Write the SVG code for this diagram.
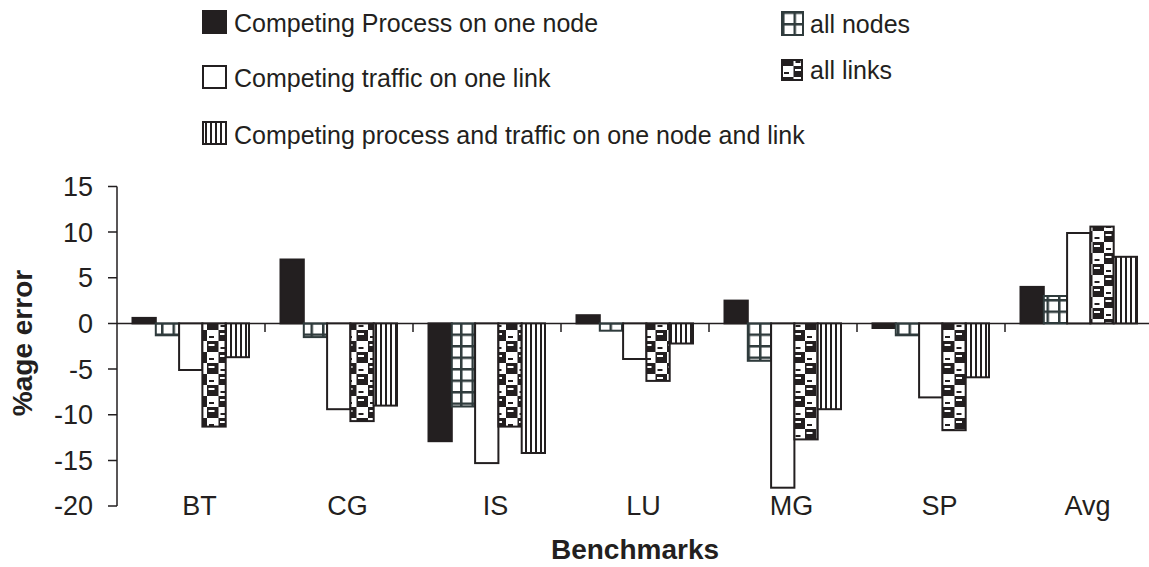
<svg xmlns="http://www.w3.org/2000/svg" width="1149" height="567" viewBox="0 0 1149 567">
  <defs>
    <!-- fill patterns for the five series -->
    <pattern id="grid" patternUnits="userSpaceOnUse" width="11.5" height="11.5">
      <rect width="11.5" height="11.5" fill="#fff"/>
      <rect x="0" y="0" width="11.5" height="2.5" fill="#2f3b3c"/>
      <rect x="0" y="0" width="2.5" height="11.5" fill="#2f3b3c"/>
    </pattern>
    <pattern id="checker" patternUnits="userSpaceOnUse" width="23" height="22">
      <rect width="23" height="22" fill="#231f20"/>
      <rect x="0" y="0" width="11.5" height="11" fill="#fff"/>
      <rect x="11.5" y="11" width="11.5" height="11" fill="#fff"/>
      <rect x="13" y="3" width="6" height="2" fill="#fff"/>
      <rect x="1.5" y="14" width="6" height="2" fill="#fff"/>
      <rect x="2" y="6" width="5" height="2" fill="#231f20"/>
      <rect x="13.5" y="17" width="5" height="2" fill="#231f20"/>
    </pattern>
    <pattern id="stripes" patternUnits="userSpaceOnUse" width="5" height="10">
      <rect width="5" height="10" fill="#fff"/>
      <rect x="0" y="0" width="2" height="10" fill="#231f20"/>
    </pattern>
  </defs>
  <style>
    text { font-family: "Liberation Sans", Arial, sans-serif; fill: #231f20; }
    .lbl { font-size: 25px; }
    .tick { font-size: 27px; text-anchor: end; }
    .cat { font-size: 27px; text-anchor: middle; }
    .title { font-size: 28px; font-weight: bold; text-anchor: middle; }
    .axis { stroke: #231f20; stroke-width: 1.5; fill: none; }
    .s1 { fill: #231f20; stroke: #231f20; stroke-width: 2; }
    .s2 { fill: url(#grid); stroke: #2f3b3c; stroke-width: 2; }
    .s3 { fill: #fff; stroke: #231f20; stroke-width: 2; }
    .s4 { fill: url(#checker); stroke: #231f20; stroke-width: 2; }
    .s5 { fill: url(#stripes); stroke: #231f20; stroke-width: 2; }
  </style>

  <rect width="1149" height="567" fill="#fff"/>

  <!-- legend -->
  <g id="legend">
    <g id="legend-process-node">
      <rect class="s1" x="203" y="11" width="23" height="22"/>
      <text class="lbl" x="234" y="32">Competing Process on one node</text>
    </g>
    <g id="legend-traffic-link">
      <rect class="s3" x="203" y="66" width="23" height="22"/>
      <text class="lbl" x="234" y="87">Competing traffic on one link</text>
    </g>
    <g id="legend-process-traffic">
      <rect class="s5" x="203" y="122" width="23" height="22"/>
      <text class="lbl" x="234" y="144">Competing process and traffic on one node and link</text>
    </g>
    <g id="legend-all-nodes">
      <rect class="s2" x="782" y="12" width="21" height="23"/>
      <text class="lbl" x="810" y="33">all nodes</text>
    </g>
    <g id="legend-all-links">
      <rect class="s4" x="782" y="60" width="20" height="20"/>
      <text class="lbl" x="810" y="79">all links</text>
    </g>
  </g>

  <!-- axes -->
  <g id="axes">
    <path class="axis" d="M117 186.5 V506 M108 186.5 H117 M108 232.1 H117 M108 277.8 H117 M108 323.4 H117 M108 369 H117 M108 414.7 H117 M108 460.4 H117 M108 506 H117"/>
    <path class="axis" d="M117 323.4 H1149 M265 323.4 V332 M413 323.4 V332 M561 323.4 V332 M709 323.4 V332 M857 323.4 V332 M1005 323.4 V332"/>
    <text class="tick" x="93" y="196">15</text>
    <text class="tick" x="93" y="242">10</text>
    <text class="tick" x="93" y="287">5</text>
    <text class="tick" x="93" y="333">0</text>
    <text class="tick" x="93" y="379">-5</text>
    <text class="tick" x="93" y="424">-10</text>
    <text class="tick" x="93" y="470">-15</text>
    <text class="tick" x="93" y="515">-20</text>
    <text class="title" transform="translate(32 343) rotate(-90)">%age error</text>
    <text class="title" x="635" y="559">Benchmarks</text>
  </g>

  <!-- category labels -->
  <g id="categories">
    <text class="cat" x="199.5" y="515">BT</text>
    <text class="cat" x="347.5" y="515">CG</text>
    <text class="cat" x="495.5" y="515">IS</text>
    <text class="cat" x="643.5" y="515">LU</text>
    <text class="cat" x="791.5" y="515">MG</text>
    <text class="cat" x="939.5" y="515">SP</text>
    <text class="cat" x="1087.5" y="515">Avg</text>
  </g>

  <!-- bars -->
  <g id="bars">
    <g id="bt">
      <rect class="s1" x="132.5" y="317.9" width="23.3" height="5.5"/>
      <rect class="s2" x="155.8" y="323.4" width="23.3" height="11.9"/>
      <rect class="s3" x="179.1" y="323.4" width="23.3" height="46.6"/>
      <rect class="s4" x="202.4" y="323.4" width="23.3" height="103.2"/>
      <rect class="s5" x="225.7" y="323.4" width="23.3" height="33.8"/>
    </g>
    <g id="cg">
      <rect class="s1" x="280.5" y="259.5" width="23.3" height="63.9"/>
      <rect class="s2" x="303.8" y="323.4" width="23.3" height="13.7"/>
      <rect class="s3" x="327.1" y="323.4" width="23.3" height="85.8"/>
      <rect class="s4" x="350.4" y="323.4" width="23.3" height="97.7"/>
      <rect class="s5" x="373.7" y="323.4" width="23.3" height="82.2"/>
    </g>
    <g id="is">
      <rect class="s1" x="428.5" y="323.4" width="23.3" height="117.8"/>
      <rect class="s2" x="451.8" y="323.4" width="23.3" height="83.1"/>
      <rect class="s3" x="475.1" y="323.4" width="23.3" height="139.7"/>
      <rect class="s4" x="498.4" y="323.4" width="23.3" height="103.2"/>
      <rect class="s5" x="521.7" y="323.4" width="23.3" height="129.6"/>
    </g>
    <g id="lu">
      <rect class="s1" x="576.5" y="315.2" width="23.3" height="8.2"/>
      <rect class="s2" x="599.8" y="323.4" width="23.3" height="7.3"/>
      <rect class="s3" x="623.1" y="323.4" width="23.3" height="35.6"/>
      <rect class="s4" x="646.4" y="323.4" width="23.3" height="57.5"/>
      <rect class="s5" x="669.7" y="323.4" width="23.3" height="20.1"/>
    </g>
    <g id="mg">
      <rect class="s1" x="724.5" y="300.6" width="23.3" height="22.8"/>
      <rect class="s2" x="747.8" y="323.4" width="23.3" height="37.4"/>
      <rect class="s3" x="771.1" y="323.4" width="23.3" height="164.3"/>
      <rect class="s4" x="794.4" y="323.4" width="23.3" height="116"/>
      <rect class="s5" x="817.7" y="323.4" width="23.3" height="85.8"/>
    </g>
    <g id="sp">
      <rect class="s1" x="872.5" y="323.4" width="23.3" height="4.6"/>
      <rect class="s2" x="895.8" y="323.4" width="23.3" height="11.9"/>
      <rect class="s3" x="919.1" y="323.4" width="23.3" height="74"/>
      <rect class="s4" x="942.4" y="323.4" width="23.3" height="106.8"/>
      <rect class="s5" x="965.7" y="323.4" width="23.3" height="53.9"/>
    </g>
    <g id="avg">
      <rect class="s1" x="1020.5" y="286.9" width="23.3" height="36.5"/>
      <rect class="s2" x="1043.8" y="296" width="23.3" height="27.4"/>
      <rect class="s3" x="1067.1" y="233" width="23.3" height="90.4"/>
      <rect class="s4" x="1090.4" y="226.6" width="23.3" height="96.8"/>
      <rect class="s5" x="1113.7" y="256.8" width="23.3" height="66.6"/>
    </g>
  </g>
</svg>
